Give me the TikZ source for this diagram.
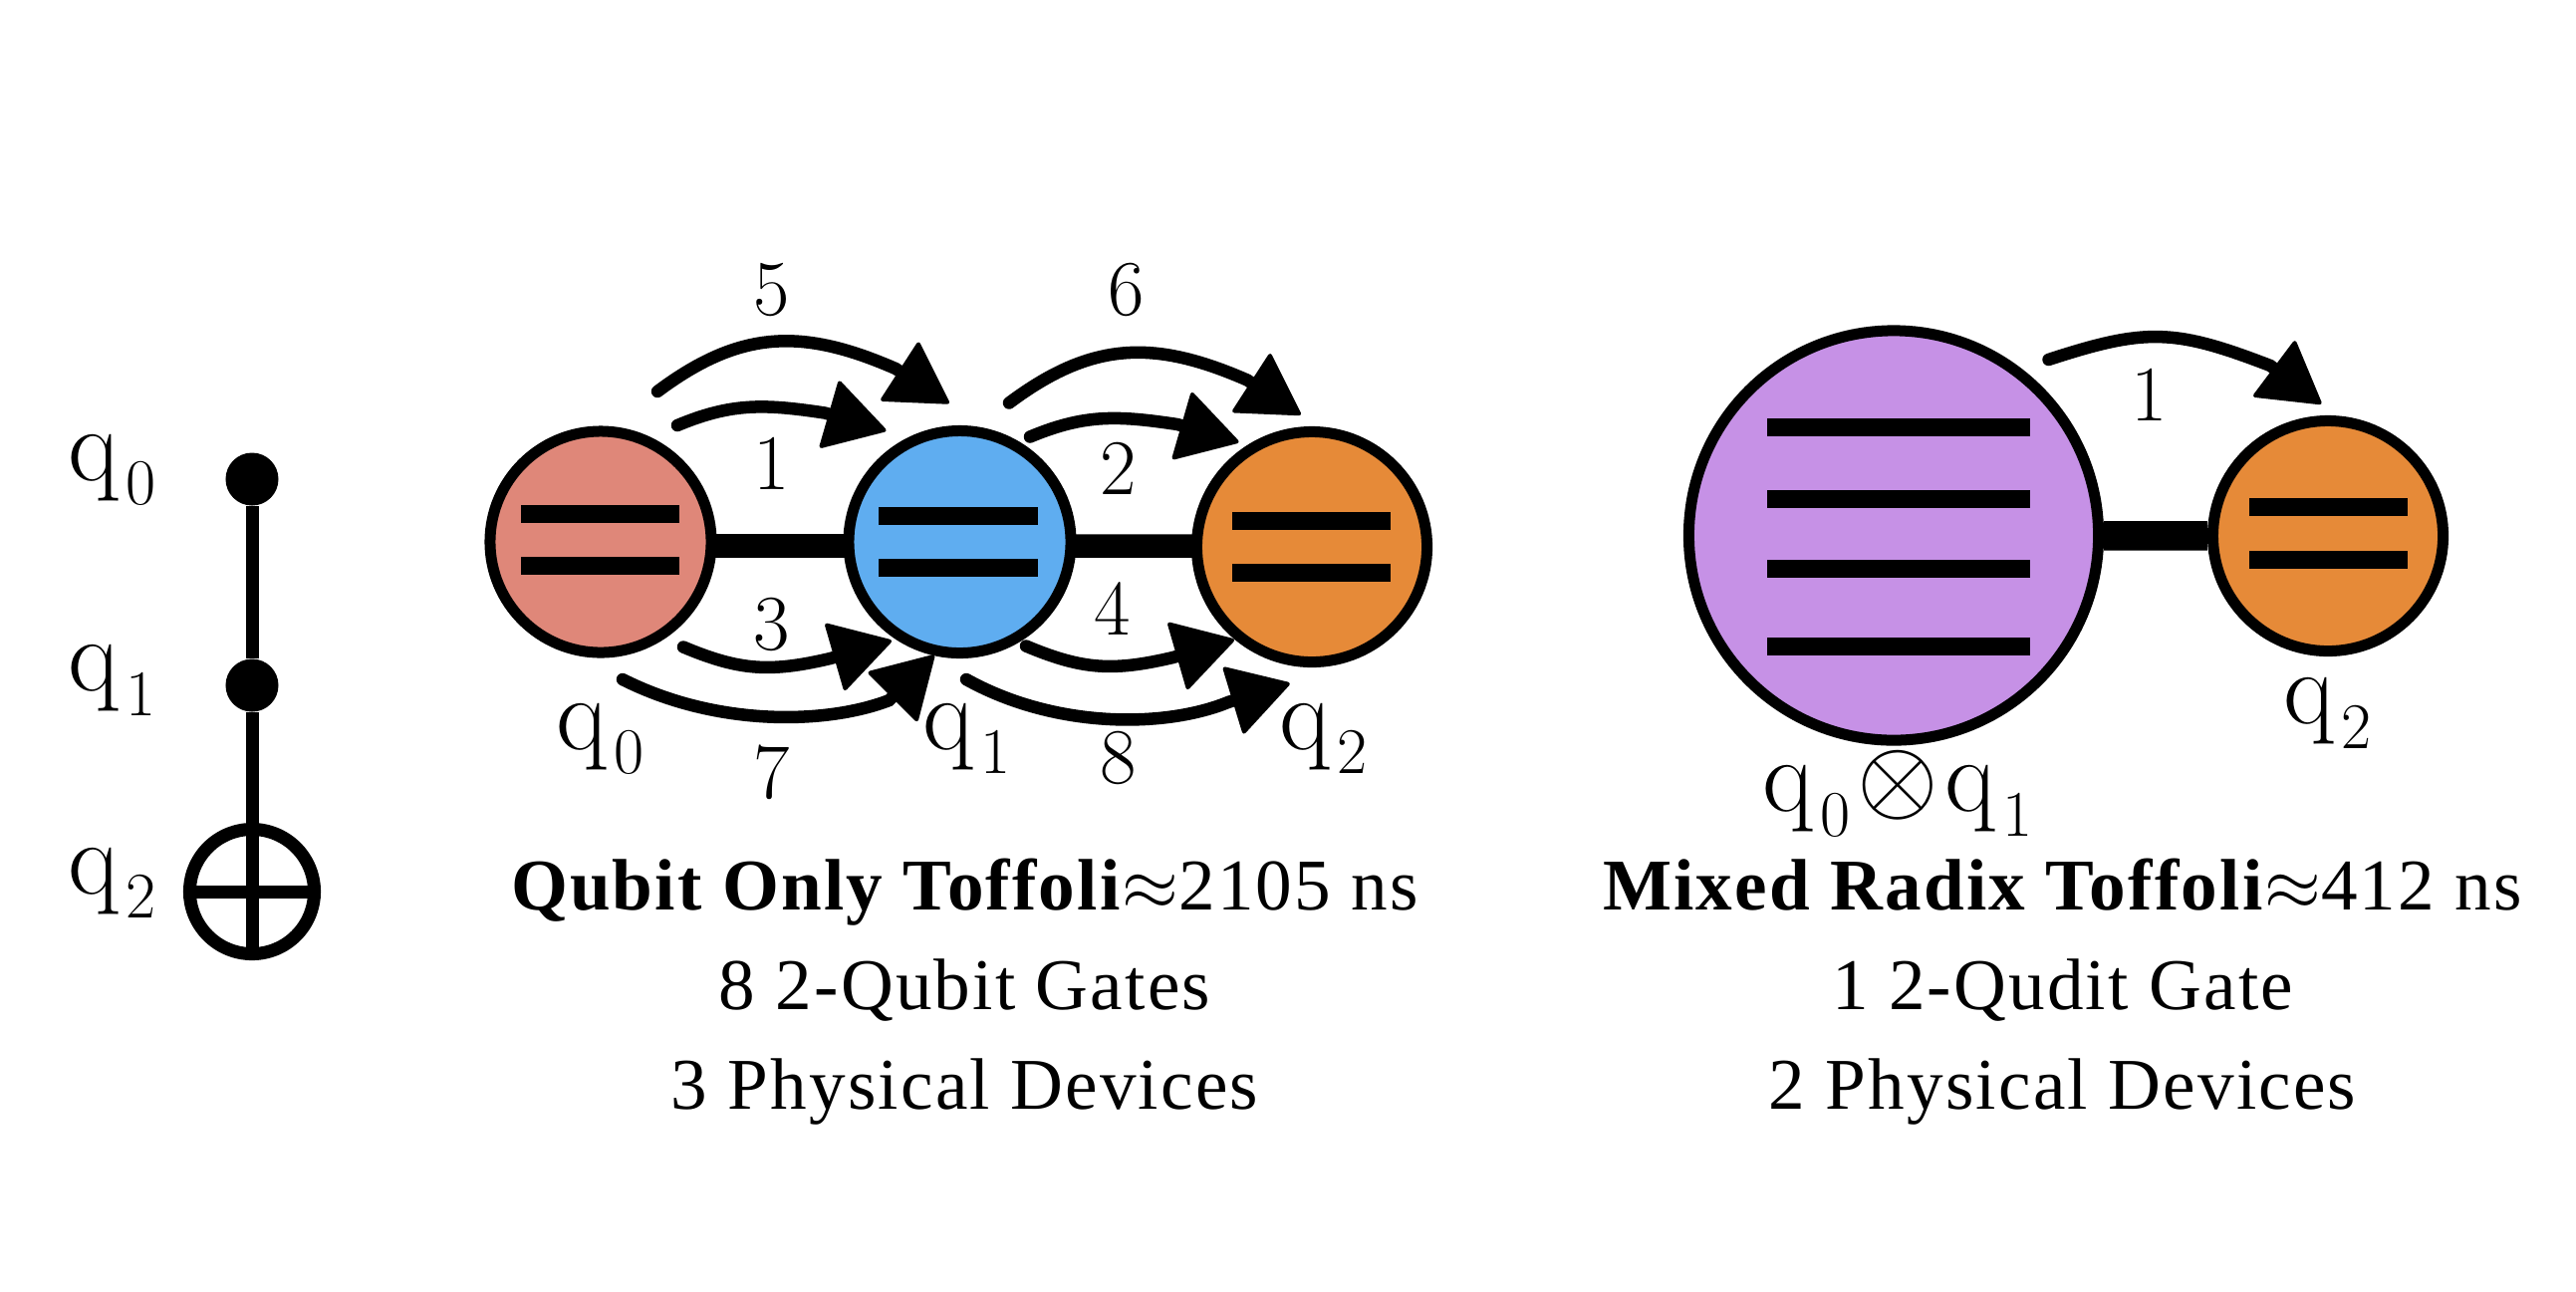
\documentclass[tikz,border=0pt]{standalone}
\usepackage[no-math]{fontspec}
\newfontfamily\capfont[LetterSpace=3]{Liberation Serif}
\usepackage{graphicx}
\usetikzlibrary{arrows.meta,backgrounds}
\definecolor{cred}{HTML}{DF8779}
\definecolor{cblue}{HTML}{5FADF0}
\definecolor{corange}{HTML}{E68A38}
\definecolor{cpurple}{HTML}{C691E6}
\newcommand{\qsub}[1]{q\kern1.8pt\raisebox{-7pt}{\fontsize{18.6}{20}\selectfont #1}}
\tikzset{
  qudit/.style={circle,draw=black,line width=0.11cm,inner sep=0pt,minimum size=#1},
  ctrl/.style={circle,fill=black,inner sep=0pt,minimum size=0.53cm},
  targetnode/.style={circle,draw=black,line width=0.13cm,inner sep=0pt,minimum size=1.25cm},
  wire/.style={line width=0.13cm},
  link/.style={line width=0.235cm},
  linkwide/.style={line width=0.295cm},
  level/.style={fill=black},
  gatearrow/.style={line width=0.125cm,line cap=round,shorten >=-0.62cm,-{Triangle[length=0.62cm,width=0.72cm,round,line width=0.04cm]}},
  qlabel/.style={anchor=base west,inner sep=0pt,font=\fontsize{30}{34}\selectfont},
  numlabel/.style={anchor=base,inner sep=0pt,font=\fontsize{22.5}{26}\selectfont},
  caption/.style={anchor=base,inner sep=0pt,font=\capfont\fontsize{20.8}{25}\selectfont},
}
\begin{document}
\begin{tikzpicture}[x=0.01cm,y=-0.01cm]
\useasboundingbox (0,0) rectangle (2586,1296);
% circuit
\node[ctrl] (d0) at (253,481) {};
\node[ctrl] (d1) at (253,688) {};
\node[targetnode] (t) at (253,895) {};
\draw[wire] (d0) -- (d1) -- (t.south);
\draw[wire] (t.west) -- (t.east);
\node[qlabel] (l0) at (68,482) {\qsub{0}};
\node[qlabel] (l1) at (68,693.5) {\qsub{1}};
\node[qlabel] (l2) at (68,897) {\qsub{2}};
% qubit only
\node[qudit=2.22cm,fill=cred] (q0) at (603,544) {};
\node[qudit=2.23cm,fill=cblue] (q1) at (963.5,544) {};
\node[qudit=2.31cm,fill=corange] (q2) at (1317,549) {};
\begin{scope}[on background layer]
\draw[link] ([yshift=-0.04cm]q0.center) -- ([yshift=-0.04cm]q1.center);
\draw[link] ([yshift=-0.04cm]q1.center) -- ([yshift=0.01cm]q2.center);
\end{scope}
\fill[level] (523,506.5) rectangle (682,524.5);
\fill[level] (523,558.5) rectangle (682,576.5);
\fill[level] (882,509) rectangle (1042,527);
\fill[level] (882,561) rectangle (1042,579);
\fill[level] (1237,514) rectangle (1396,532);
\fill[level] (1237,566) rectangle (1396,584);
% arrows
\coordinate (a5s) at (660,393); \coordinate (a5e) at (899,370);
\coordinate (a1s) at (680,427); \coordinate (a1e) at (828,414.5);
\coordinate (a6s) at (1013,404.5); \coordinate (a6e) at (1252,381.5);
\coordinate (a2s) at (1034,438.5); \coordinate (a2e) at (1182,426);
\coordinate (a3s) at (686,649.5); \coordinate (a3e) at (833.5,661);
\coordinate (a4s) at (1030,648.5); \coordinate (a4e) at (1177.5,660);
\coordinate (a7s) at (625,682); \coordinate (a7e) at (892.6,703);
\coordinate (a8s) at (970,682); \coordinate (a8e) at (1233.5,704.7);
\draw[gatearrow] (a5s) .. controls +(83,-62) and +(-94,-41) .. (a5e) -- +(1.7,1.1);
\draw[gatearrow] (a1s) .. controls +(55,-23) and +(-60,-9) .. (a1e) -- +(1.9,0.55);
\draw[gatearrow] (a6s) .. controls +(83,-62) and +(-94,-41) .. (a6e) -- +(1.7,1.1);
\draw[gatearrow] (a2s) .. controls +(55,-23) and +(-60,-9) .. (a2e) -- +(1.9,0.55);
\draw[gatearrow] (a3s) .. controls +(57,24) and +(-60,14) .. (a3e) -- +(1.9,-0.55);
\draw[gatearrow] (a4s) .. controls +(57,24) and +(-60,14) .. (a4e) -- +(1.9,-0.55);
\draw[gatearrow] (a7s) .. controls +(95,48) and +(-62,24) .. (a7e) -- +(1.4,-1.4);
\draw[gatearrow] (a8s) .. controls +(90,50) and +(-63,26) .. (a8e) -- +(1.9,-0.58);
% numbers
\node[numlabel] (n5) at (775,316) {5};
\node[numlabel] (n6) at (1130.5,316) {6};
\node[numlabel] (n1) at (775,491) {1};
\node[numlabel] (n2) at (1123,496) {2};
\node[numlabel] (n3) at (775,652.5) {3};
\node[numlabel] (n4) at (1116.5,637) {4};
\node[numlabel] (n7) at (775,801) {7};
\node[numlabel] (n8) at (1123,786) {8};
\node[qlabel] (m0) at (558,752) {\qsub{0}};
\node[qlabel] (m1) at (926,752) {\qsub{1}};
\node[qlabel] (m2) at (1284,752) {\qsub{2}};
% captions
\node[caption] (c1) at (968.5,913) {\textbf{Qubit Only Toffoli}$\approx$2105 ns};
\node[caption] (c2) at (968.5,1013) {8 2-Qubit Gates};
\node[caption] (c3) at (968.5,1113) {3 Physical Devices};
% mixed radix
\node[qudit=4.11cm,fill=cpurple] (qq) at (1901,537.5) {};
\node[qudit=2.31cm,fill=corange] (qo) at (2337,538) {};
\begin{scope}[on background layer]
\draw[linkwide] (qq) -- (qo);
\end{scope}
\fill[level] (1773.5,420) rectangle (2038,438);
\fill[level] (1773.5,492) rectangle (2038,510);
\fill[level] (1773.5,562) rectangle (2038,580);
\fill[level] (1773.5,640) rectangle (2038,658);
\fill[level] (2257.5,500) rectangle (2416.5,518);
\fill[level] (2257.5,553) rectangle (2416.5,571);
\coordinate (ams) at (2056.5,361); \coordinate (ame) at (2279,367);
\draw[gatearrow] (ams) .. controls +(98,-32) and +(-96,-37) .. (ame) -- +(1.6,1.2);
\node[numlabel] (n9) at (2158,422) {1};
\node[qlabel] (m3) at (2292,726.5) {\qsub{2}};
\node[qlabel] (m4) at (1769,814.5) {\qsub{0}\kern2pt\scalebox{1.2}{$\otimes$}\kern2pt\qsub{1}};
\node[caption] (c4) at (2070.5,913) {\textbf{Mixed Radix Toffoli}$\approx$412 ns};
\node[caption] (c5) at (2070.5,1013) {1 2-Qudit Gate};
\node[caption] (c6) at (2070.5,1113) {2 Physical Devices};
\end{tikzpicture}
\end{document}
